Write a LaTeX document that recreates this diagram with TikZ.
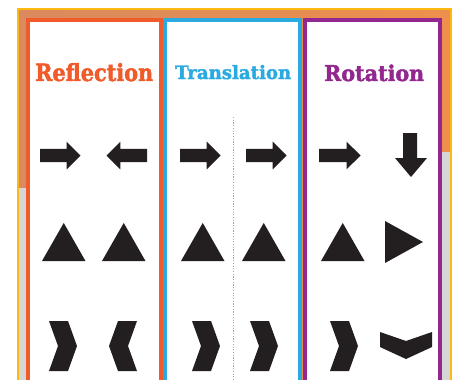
\documentclass[tikz,border=0pt]{standalone}
\usepackage{fontspec}
\newfontfamily\titlefont{DejaVu Serif Bold}[FakeBold=2]
\definecolor{refl}{HTML}{F15A29}
\definecolor{trans}{HTML}{29ABE2}
\definecolor{rot}{HTML}{92278F}
\definecolor{ink}{HTML}{231F20}
\definecolor{frameyel}{HTML}{FDB913}
\definecolor{bandL}{HTML}{D98A5E}
\definecolor{bandR}{HTML}{EE8F4C}
\definecolor{sidegray}{HTML}{D6D6D6}
\tikzset{
  rarrow/.pic={\fill[ink] (0,-6.7) -- (26.7,-6.7) -- (26.7,-13.8) -- (40.5,0) -- (26.7,13.8) -- (26.7,6.7) -- (0,6.7) -- cycle;},
  chevr/.pic={\fill[ink] (0,0) -- (19,0) -- (28,25) -- (19,50) -- (0,50) -- (9,25) -- cycle;},
  tri/.pic={\fill[ink] (0,0) -- (21.75,-38) -- (43.5,0) -- cycle;},
}
\begin{document}
\begin{tikzpicture}[x=1pt,y=-1pt,
  panel/.style={line width=4pt, fill=white},
  ttl/.style={inner sep=0pt, anchor=base west}]
\useasboundingbox (0,0) rectangle (459,380);
\fill[white] (0,0) rectangle (459,380);
% background band inside the yellow frame
\shade[left color=bandL, right color=bandR] (18,9) rectangle (451,380);
\fill[sidegray] (18,188) rectangle (26,380);
\fill[sidegray] (442,152) rectangle (451,380);
\draw[frameyel, line width=2pt] (18,382) -- (18,9) -- (451,9) -- (451,382);
% panels
\draw[panel, draw=refl] (28,19.7) rectangle (161,392);
\draw[panel, draw=trans] (165.3,19.7) rectangle (300,392);
\draw[panel, draw=rot] (305,19.7) rectangle (439.5,392);
% dotted centre line of translation panel
\draw[gray!70, line width=1pt, dash pattern=on 1.2pt off 1.5pt] (233,117) -- (233,382);
% titles
\node[ttl, text=refl] (trefl) at (35,81) {\resizebox{118pt}{18pt}{\titlefont Reflection}};
\node[ttl, text=trans] (ttrans) at (175,79) {\resizebox{116pt}{14pt}{\titlefont Translation}};
\node[ttl, text=rot] (trot) at (324,81) {\resizebox{100pt}{16.5pt}{\titlefont Rotation}};
% row 1: arrows
\pic at (40,155.5) {rarrow};
\pic[xscale=-1] at (147,155.5) {rarrow};
\pic at (180,155.5) {rarrow};
\pic at (246,155.5) {rarrow};
\pic[xscale=1.03] at (319,155.5) {rarrow};
\fill[ink] (403,133) -- (417,133) -- (417,158) -- (427,158) -- (411,177) -- (395,158) -- (403,158) -- cycle;
% row 2: triangles
\pic at (42,261) {tri};
\pic at (102,261) {tri};
\pic at (181,261) {tri};
\pic at (242,261) {tri};
\pic at (321,261) {tri};
\fill[ink] (385,221) -- (423,242) -- (385,263) -- cycle;
% row 3: chevrons
\pic at (49,321) {chevr};
\pic[xscale=-1] at (137,321) {chevr};
\pic at (192,321) {chevr};
\pic at (250,321) {chevr};
\pic at (330,321) {chevr};
\fill[ink] (380,332) -- (406,341) -- (432,332) -- (432,347) -- (406,359) -- (380,347) -- cycle;
\end{tikzpicture}
\end{document}
